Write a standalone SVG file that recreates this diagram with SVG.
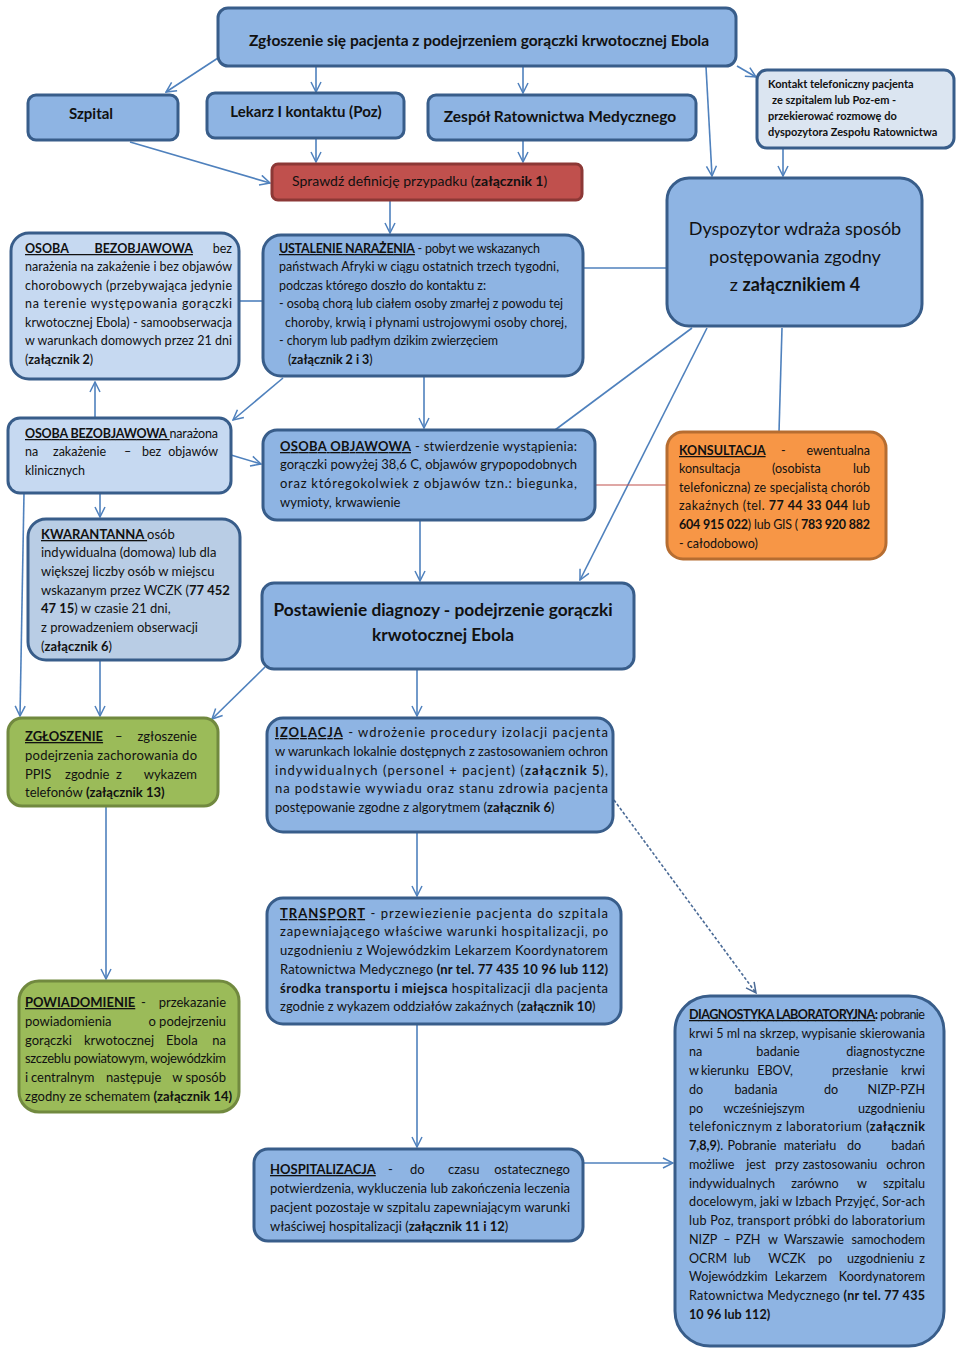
<svg xmlns="http://www.w3.org/2000/svg" width="960" height="1350" viewBox="0 0 960 1350">
<defs>
<marker id="ar" viewBox="0 0 12 12" refX="11" refY="6" markerWidth="12" markerHeight="12" markerUnits="userSpaceOnUse" orient="auto">
<path d="M1,1 L11,6 L1,11" fill="none" stroke="#4f81bd" stroke-width="1.5"/>
</marker>
<marker id="ard" viewBox="0 0 12 12" refX="11" refY="6" markerWidth="12" markerHeight="12" markerUnits="userSpaceOnUse" orient="auto">
<path d="M1,1 L11,6 L1,11" fill="none" stroke="#4a6a96" stroke-width="1.5"/>
</marker>
</defs>
<style>
.bx{stroke:#385d8a;stroke-width:3}
.mid{fill:#8eb4e3}
.lt{fill:#c6d9f1}
.kw{fill:#b9cde5}
.ko{fill:#dbe5f1}
.or{fill:#f79646;stroke:#b66d31;stroke-width:3}
.gr{fill:#9bbb59;stroke:#71893f;stroke-width:3}
.rd{fill:#c0504d;stroke:#8c3836;stroke-width:3}
text{font-family:Lato,"Liberation Sans",sans-serif;font-size:12.5px;fill:#111}
.b{font-weight:bold}
.u{text-decoration:underline}
.d{font-size:12.6px}
.t13{font-size:13px}
.h{font-weight:bold;font-size:15px}
.k{font-weight:bold;font-size:11px}
.e{text-anchor:end}
.m{text-anchor:middle}
</style>
<rect width="960" height="1350" fill="#ffffff"/>

<g id="connectors" fill="none" stroke="#4f81bd" stroke-width="1.6">
<line x1="218" y1="58" x2="166" y2="92" marker-end="url(#ar)"/>
<line x1="316" y1="67" x2="316" y2="92" marker-end="url(#ar)"/>
<line x1="523" y1="67" x2="523" y2="93" marker-end="url(#ar)"/>
<line x1="737" y1="66" x2="756" y2="77" marker-end="url(#ar)"/>
<line x1="706" y1="67" x2="712" y2="176" marker-end="url(#ar)"/>
<line x1="783" y1="148" x2="783" y2="176" marker-end="url(#ar)"/>
<line x1="130" y1="142" x2="270" y2="183" marker-end="url(#ar)"/>
<line x1="316" y1="138" x2="316" y2="162" marker-end="url(#ar)"/>
<line x1="523" y1="140" x2="523" y2="162" marker-end="url(#ar)"/>
<line x1="390" y1="200" x2="390" y2="233" marker-end="url(#ar)"/>
<line x1="239" y1="301" x2="263" y2="301"/>
<line x1="583" y1="268" x2="667" y2="268"/>
<line x1="283" y1="378" x2="233" y2="420" marker-end="url(#ar)"/>
<line x1="95" y1="418" x2="95" y2="382" marker-end="url(#ar)"/>
<line x1="424" y1="376" x2="424" y2="428" marker-end="url(#ar)"/>
<line x1="231" y1="455" x2="261" y2="464" marker-end="url(#ar)"/>
<line x1="100" y1="493" x2="100" y2="517" marker-end="url(#ar)"/>
<line x1="692" y1="328" x2="555" y2="430"/>
<line x1="707" y1="328" x2="580" y2="580" marker-end="url(#ar)"/>
<line x1="782" y1="328" x2="779" y2="432"/>
<line x1="595" y1="485" x2="667" y2="485" stroke="#c0504d" stroke-width="1.2"/>
<line x1="420" y1="520" x2="420" y2="581" marker-end="url(#ar)"/>
<line x1="24" y1="493" x2="20" y2="716" marker-end="url(#ar)"/>
<line x1="100" y1="660" x2="100" y2="716" marker-end="url(#ar)"/>
<line x1="265" y1="667" x2="212" y2="719" marker-end="url(#ar)"/>
<line x1="417" y1="669" x2="417" y2="716" marker-end="url(#ar)"/>
<line x1="106" y1="806" x2="106" y2="979" marker-end="url(#ar)"/>
<line x1="417" y1="832" x2="417" y2="896" marker-end="url(#ar)"/>
<line x1="614" y1="800" x2="756" y2="993" stroke="#4a6a96" stroke-dasharray="3 2" marker-end="url(#ard)"/>
<line x1="417" y1="1024" x2="417" y2="1147" marker-end="url(#ar)"/>
<line x1="583" y1="1163" x2="673" y2="1163" marker-end="url(#ar)"/>
</g>

<g id="n-zgloszenie-pacjenta">
<rect class="bx mid" x="218" y="8" width="518" height="58" rx="10"/>
<text class="b m" x="479" y="46" style="font-size:15.5px">Zgłoszenie się pacjenta z  podejrzeniem gorączki krwotocznej Ebola</text>
</g>

<g id="n-szpital">
<rect class="bx mid" x="28" y="95" width="150" height="45" rx="8"/>
<text class="h m" x="91" y="119">Szpital</text>
</g>

<g id="n-lekarz">
<rect class="bx mid" x="207" y="93" width="197" height="45" rx="8"/>
<text class="h m" x="306" y="117">Lekarz I kontaktu (Poz)</text>
</g>

<g id="n-zrm">
<rect class="bx mid" x="428" y="95" width="268" height="45" rx="8"/>
<text class="h m" x="560" y="122" style="font-size:15.5px">Zespół Ratownictwa Medycznego</text>
</g>

<g id="n-kontakt">
<rect class="bx ko" x="757" y="70" width="197" height="78" rx="10"/>
<text class="k" x="768" y="88">Kontakt telefoniczny pacjenta</text>
<text class="k" x="772" y="104">ze szpitalem lub Poz-em -</text>
<text class="k" x="768" y="120">przekierować rozmowę do</text>
<text class="k" x="768" y="136">dyspozytora Zespołu Ratownictwa</text>
</g>

<g id="n-sprawdz">
<rect class="rd" x="272" y="164" width="310" height="36" rx="6"/>
<text x="292" y="186" style="font-size:14px">Sprawdź definicję przypadku  (<tspan class="b">załącznik 1</tspan>)</text>
</g>

<g id="n-dyspozytor">
<rect class="bx mid" x="667" y="178" width="255" height="148" rx="22"/>
<text class="m" x="795" y="235" style="font-size:18px">Dyspozytor wdraża sposób</text>
<text class="m" x="795" y="263" style="font-size:18px">postępowania zgodny</text>
<text class="m" x="795" y="291" style="font-size:18px">z <tspan class="b">załącznikiem 4</tspan></text>
</g>

<g id="n-osoba-bez-narazenia">
<rect class="bx lt" x="11" y="233" width="228" height="146" rx="18"/>
<text x="25" y="253"><tspan class="b u" word-spacing="23">OSOBA BEZOBJAWOWA</tspan></text>
<text class="e" x="232" y="253">bez</text>
<text x="25" y="271" textLength="207" lengthAdjust="spacing">narażenia na zakażenie i bez objawów</text>
<text x="25" y="290" textLength="207" lengthAdjust="spacing">chorobowych (przebywająca jedynie</text>
<text x="25" y="308" textLength="207" lengthAdjust="spacing">na terenie występowania gorączki</text>
<text x="25" y="327" textLength="207" lengthAdjust="spacing">krwotocznej Ebola) - samoobserwacja</text>
<text x="25" y="345" textLength="207" lengthAdjust="spacing">w warunkach domowych przez 21 dni</text>
<text x="25" y="364">(<tspan class="b">załącznik 2</tspan>)</text>
</g>

<g id="n-ustalenie">
<rect class="bx mid" x="263" y="235" width="320" height="141" rx="18"/>
<text x="279" y="253" textLength="261" lengthAdjust="spacing"><tspan class="b u">USTALENIE  NARAŻENIA</tspan> - pobyt we wskazanych</text>
<text x="279" y="271" textLength="280" lengthAdjust="spacing">państwach Afryki w  ciągu ostatnich trzech  tygodni,</text>
<text x="279" y="290" textLength="207" lengthAdjust="spacing">podczas którego doszło do kontaktu z:</text>
<text x="279" y="308" textLength="284" lengthAdjust="spacing">- osobą chorą lub ciałem osoby zmarłej z powodu tej</text>
<text x="285" y="327" textLength="282" lengthAdjust="spacing">choroby, krwią i płynami ustrojowymi osoby  chorej,</text>
<text x="279" y="345" textLength="219" lengthAdjust="spacing">- chorym lub padłym dzikim zwierzęciem</text>
<text x="288" y="364">(<tspan class="b">załącznik 2 i 3</tspan>)</text>
</g>

<g id="n-osoba-narazona">
<rect class="bx lt" x="8" y="418" width="223" height="75" rx="12"/>
<text x="25" y="438" textLength="193" lengthAdjust="spacing"><tspan class="b u">OSOBA  BEZOBJAWOWA </tspan>narażona</text>
<text y="456"><tspan x="25">na</tspan><tspan x="53">zakażenie</tspan><tspan x="124">–</tspan><tspan x="142">bez</tspan></text>
<text class="e" x="218" y="456">objawów</text>
<text x="25" y="475">klinicznych</text>
</g>

<g id="n-osoba-objawowa">
<rect class="bx mid" x="263" y="430" width="332" height="90" rx="14"/>
<text class="t13" x="280" y="451" textLength="297" lengthAdjust="spacing"><tspan class="b u">OSOBA  OBJAWOWA</tspan> - stwierdzenie wystąpienia:</text>
<text class="t13" x="280" y="469" textLength="297" lengthAdjust="spacing">gorączki powyżej 38,6 C, objawów grypopodobnych</text>
<text class="t13" x="280" y="488" textLength="297" lengthAdjust="spacing">oraz któregokolwiek z objawów tzn.: biegunka,</text>
<text class="t13" x="280" y="507">wymioty, krwawienie</text>
</g>

<g id="n-konsultacja">
<rect class="or" x="667" y="432" width="219" height="127" rx="16"/>
<text y="455"><tspan class="b u" x="679">KONSULTACJA</tspan><tspan x="781">-</tspan></text>
<text class="e" x="870" y="455">ewentualna</text>
<text y="473"><tspan x="679">konsultacja</tspan><tspan x="772">(osobista</tspan></text>
<text class="e" x="870" y="473">lub</text>
<text x="679" y="492" textLength="191" lengthAdjust="spacing">telefoniczna) ze specjalistą chorób</text>
<text x="679" y="510" textLength="191" lengthAdjust="spacing">zakaźnych (tel. <tspan class="b">77  44  33 044</tspan> lub</text>
<text x="679" y="529" textLength="191" lengthAdjust="spacing"><tspan class="b">604 915 022</tspan>) lub  GIS ( <tspan class="b">783 920 882</tspan></text>
<text x="679" y="548">- całodobowo)</text>
</g>

<g id="n-kwarantanna">
<rect class="bx kw" x="28" y="519" width="212" height="141" rx="18"/>
<text class="t13" x="41" y="539"><tspan class="b u">KWARANTANNA </tspan> osób</text>
<text class="t13" x="41" y="557">indywidualna (domowa) lub dla</text>
<text class="t13" x="41" y="576">większej liczby osób w miejscu</text>
<text class="t13" x="41" y="595">wskazanym przez WCZK (<tspan class="b">77 452</tspan></text>
<text class="t13" x="41" y="613"><tspan class="b">47 15</tspan>) w czasie 21 dni,</text>
<text class="t13" x="41" y="632">z prowadzeniem obserwacji</text>
<text class="t13" x="41" y="651">(<tspan class="b">załącznik 6</tspan>)</text>
</g>

<g id="n-diagnoza">
<rect class="bx mid" x="262" y="583" width="372" height="86" rx="12"/>
<text class="b m" x="443" y="616" style="font-size:17.3px">Postawienie diagnozy  - podejrzenie gorączki</text>
<text class="b m" x="443" y="641" style="font-size:17.3px">krwotocznej Ebola</text>
</g>

<g id="n-zgloszenie">
<rect class="gr" x="8" y="718" width="210" height="88" rx="14"/>
<text class="t13" y="741"><tspan class="b u" x="25">ZGŁOSZENIE</tspan><tspan x="115">–</tspan></text>
<text class="t13 e" x="197" y="741">zgłoszenie</text>
<text class="t13" x="25" y="760" textLength="172" lengthAdjust="spacing">podejrzenia zachorowania do</text>
<text class="t13" y="779"><tspan x="25">PPIS</tspan><tspan x="65">zgodnie</tspan><tspan x="116">z</tspan></text>
<text class="t13 e" x="197" y="779">wykazem</text>
<text class="t13" x="25" y="797">telefonów <tspan class="b">(załącznik 13)</tspan></text>
</g>

<g id="n-izolacja">
<rect class="bx mid" x="267" y="718" width="346" height="114" rx="16"/>
<text class="t13" x="275" y="737" textLength="333" lengthAdjust="spacing"><tspan class="b u">IZOLACJA</tspan> - wdrożenie procedury izolacji pacjenta</text>
<text class="t13" x="275" y="756" textLength="333" lengthAdjust="spacing">w warunkach lokalnie dostępnych z zastosowaniem ochron</text>
<text class="t13" x="275" y="775" textLength="333" lengthAdjust="spacing">indywidualnych (personel + pacjent) (<tspan class="b">załącznik 5</tspan>),</text>
<text class="t13" x="275" y="793" textLength="333" lengthAdjust="spacing">na podstawie wywiadu oraz stanu zdrowia pacjenta</text>
<text class="t13" x="275" y="812">postępowanie zgodne z algorytmem (<tspan class="b">załącznik 6</tspan>)</text>
</g>

<g id="n-transport">
<rect class="bx mid" x="267" y="898" width="354" height="126" rx="16"/>
<text class="t13" x="280" y="918" textLength="328" lengthAdjust="spacing"><tspan class="b u">TRANSPORT</tspan> - przewiezienie pacjenta  do szpitala</text>
<text class="t13" x="280" y="936" textLength="328" lengthAdjust="spacing">zapewniającego właściwe warunki hospitalizacji, po</text>
<text class="t13" x="280" y="955" textLength="328" lengthAdjust="spacing">uzgodnieniu  z Wojewódzkim Lekarzem Koordynatorem</text>
<text class="t13" x="280" y="974" textLength="328" lengthAdjust="spacing">Ratownictwa Medycznego <tspan class="b">(nr tel. 77 435 10 96 lub 112)</tspan></text>
<text class="t13" x="280" y="993" textLength="328" lengthAdjust="spacing"><tspan class="b">środka transportu i miejsca</tspan> hospitalizacji dla pacjenta</text>
<text class="t13" x="280" y="1011">zgodnie z wykazem oddziałów zakaźnych (<tspan class="b">załącznik 10</tspan>)</text>
</g>

<g id="n-powiadomienie">
<rect class="gr" x="19" y="981" width="220" height="131" rx="20"/>
<text class="t13" y="1007"><tspan class="b u" x="25">POWIADOMIENIE</tspan><tspan x="141">-</tspan></text>
<text class="t13 e" x="226" y="1007">przekazanie</text>
<text class="t13" x="25" y="1026">powiadomienia</text>
<text class="t13 e" x="226" y="1026">o podejrzeniu</text>
<text class="t13" y="1045"><tspan x="25">gorączki</tspan><tspan x="84">krwotocznej</tspan><tspan x="166">Ebola</tspan></text>
<text class="t13 e" x="226" y="1045">na</text>
<text class="t13" x="25" y="1063" textLength="201" lengthAdjust="spacing">szczeblu powiatowym, wojewódzkim</text>
<text class="t13" y="1082"><tspan x="25">i</tspan><tspan x="31">centralnym</tspan><tspan x="106">następuje</tspan></text>
<text class="t13 e" x="226" y="1082">w sposób</text>
<text class="t13" x="25" y="1101">zgodny ze schematem <tspan class="b">(załącznik 14)</tspan></text>
</g>

<g id="n-hospitalizacja">
<rect class="bx mid" x="254" y="1149" width="329" height="92" rx="14"/>
<text class="t13" y="1174"><tspan class="b u" x="270">HOSPITALIZACJA</tspan><tspan x="388">-</tspan><tspan x="410">do</tspan><tspan x="448">czasu</tspan></text>
<text class="t13 e" x="570" y="1174">ostatecznego</text>
<text class="t13" x="270" y="1193" textLength="300" lengthAdjust="spacing">potwierdzenia, wykluczenia lub zakończenia leczenia</text>
<text class="t13" x="270" y="1212" textLength="300" lengthAdjust="spacing">pacjent pozostaje w szpitalu zapewniającym warunki</text>
<text class="t13" x="270" y="1231">właściwej hospitalizacji (<tspan class="b">załącznik 11 i 12</tspan>)</text>
</g>

<g id="n-diagnostyka">
<rect class="bx mid" x="675" y="996" width="269" height="350" rx="35"/>
<text class="d" x="689" y="1019" textLength="236" lengthAdjust="spacing"><tspan class="b u">DIAGNOSTYKA LABORATORYJNA</tspan><tspan class="b">:</tspan> pobranie</text>
<text class="d" x="689" y="1038" textLength="236" lengthAdjust="spacing">krwi 5 ml na skrzep, wypisanie  skierowania</text>
<text class="d" x="689" y="1056">na</text>
<text class="d m" x="778" y="1056">badanie</text>
<text class="d e" x="925" y="1056">diagnostyczne</text>
<text class="d" x="689" y="1075">w</text>
<text class="d m" x="725" y="1075">kierunku</text>
<text class="d m" x="775" y="1075">EBOV,</text>
<text class="d m" x="860" y="1075">przesłanie</text>
<text class="d e" x="925" y="1075">krwi</text>
<text class="d" x="689" y="1094">do</text>
<text class="d m" x="756" y="1094">badania</text>
<text class="d m" x="831" y="1094">do</text>
<text class="d e" x="925" y="1094">NIZP-PZH</text>
<text class="d" x="689" y="1113">po</text>
<text class="d m" x="764" y="1113">wcześniejszym</text>
<text class="d e" x="925" y="1113">uzgodnieniu</text>
<text class="d" x="689" y="1131" textLength="236" lengthAdjust="spacing">telefonicznym z laboratorium (<tspan class="b">załącznik</tspan></text>
<text class="d" x="689" y="1150"><tspan class="b">7,8,9</tspan>).</text>
<text class="d m" x="752" y="1150">Pobranie</text>
<text class="d m" x="810" y="1150">materiału</text>
<text class="d m" x="854" y="1150">do</text>
<text class="d e" x="925" y="1150">badań</text>
<text class="d" x="689" y="1169">możliwe</text>
<text class="d m" x="756" y="1169">jest</text>
<text class="d m" x="787" y="1169">przy</text>
<text class="d m" x="840" y="1169">zastosowaniu</text>
<text class="d e" x="925" y="1169">ochron</text>
<text class="d" x="689" y="1188">indywidualnych</text>
<text class="d m" x="815" y="1188">zarówno</text>
<text class="d m" x="862" y="1188">w</text>
<text class="d e" x="925" y="1188">szpitalu</text>
<text class="d" x="689" y="1206" textLength="236" lengthAdjust="spacing">docelowym, jaki w Izbach Przyjęć, Sor-ach</text>
<text class="d" x="689" y="1225" textLength="236" lengthAdjust="spacing">lub Poz, transport  próbki do laboratorium</text>
<text class="d" x="689" y="1244">NIZP</text>
<text class="d m" x="727" y="1244">–</text>
<text class="d m" x="748" y="1244">PZH</text>
<text class="d m" x="773" y="1244">w</text>
<text class="d m" x="814" y="1244">Warszawie</text>
<text class="d e" x="925" y="1244">samochodem</text>
<text class="d" x="689" y="1263">OCRM</text>
<text class="d m" x="742" y="1263">lub</text>
<text class="d m" x="787" y="1263">WCZK</text>
<text class="d m" x="825" y="1263">po</text>
<text class="d e" x="914" y="1263">uzgodnieniu</text>
<text class="d e" x="925" y="1263">z</text>
<text class="d" x="689" y="1281">Wojewódzkim</text>
<text class="d m" x="801" y="1281">Lekarzem</text>
<text class="d e" x="925" y="1281">Koordynatorem</text>
<text class="d" x="689" y="1300" textLength="236" lengthAdjust="spacing">Ratownictwa Medycznego <tspan class="b">(nr tel. 77 435</tspan></text>
<text class="d b" x="689" y="1319">10 96 lub 112)</text>
</g>
</svg>
